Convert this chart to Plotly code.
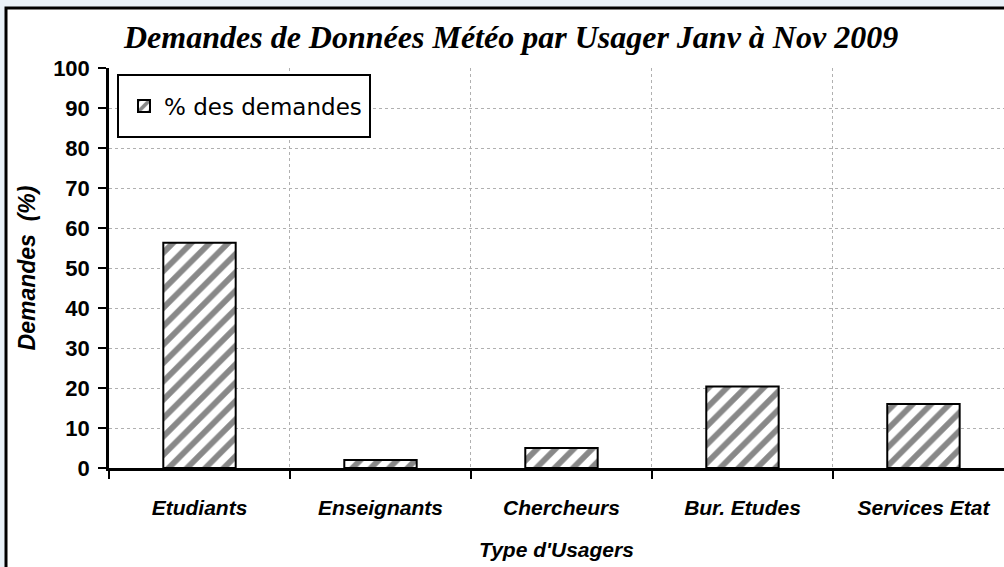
import plotly.graph_objects as go

categories = ["Etudiants", "Enseignants", "Chercheurs", "Bur. Etudes", "Services Etat"]
values = [56.3, 2.0, 5.0, 20.4, 16.0]
series_name = "% des demandes"
y_ticks = [0, 10, 20, 30, 40, 50, 60, 70, 80, 90, 100]

W, H = 1004, 567
L, R, T, B = 109, 0, 68, 99
pw = W - L - R
ph = H - T - B

def px_to_paper_x(px):
    return (px - L) / pw

def px_to_paper_y(py):
    return (H - B - py) / ph

fig = go.Figure()
fig.add_trace(go.Bar(
    x=categories, y=values, name=series_name, width=0.4,
    marker=dict(color="white", line=dict(color="black", width=2),
                pattern=dict(shape="/", fgcolor="#888888", bgcolor="white", size=13,
                             solidity=0.45, fgopacity=1)),
    showlegend=True,
))

arial = "Arial, Liberation Sans"

fig.update_layout(
    width=W, height=H,
    margin=dict(l=L, r=R, t=T, b=B, pad=0),
    paper_bgcolor="#e9f1f8",
    plot_bgcolor="white",
    showlegend=True,
    legend=dict(
        x=px_to_paper_x(124), y=px_to_paper_y(106), xanchor="left", yanchor="middle",
        bgcolor="rgba(0,0,0,0)", borderwidth=0,
        font=dict(family="DejaVu Sans", size=23, color="black"),
        itemwidth=30,
    ),
    xaxis=dict(
        type="category", range=[-0.5, 4.445],
        tickson="boundaries", ticks="outside", ticklen=8, tickwidth=2, tickcolor="black",
        showgrid=True, gridcolor="#b0b0b0", griddash="dot", gridwidth=1,
        showline=True, linecolor="black", linewidth=2.5,
        tickfont=dict(family=arial, size=21, color="black", weight="bold", style="italic"),
        ticklabelstandoff=19,
        title=dict(text="Type d'Usagers", standoff=25,
                   font=dict(family=arial, size=21, color="black", weight="bold", style="italic")),
    ),
    yaxis=dict(
        range=[0, 100], tickvals=y_ticks, ticks="outside", ticklen=8, tickwidth=2, tickcolor="black",
        showgrid=True, gridcolor="#b0b0b0", griddash="dot", gridwidth=1,
        showline=True, linecolor="black", linewidth=2.5, zeroline=False,
        tickfont=dict(family=arial, size=22, color="black", weight="bold"), ticklabelstandoff=4,
        title=dict(text="Demandes  (%)", standoff=12,
                   font=dict(family=arial, size=23, color="black", weight="bold", style="italic")),
    ),
    shapes=[
        dict(type="rect", xref="paper", yref="paper", layer="below",
             x0=px_to_paper_x(6), x1=1.05, y0=-0.4, y1=px_to_paper_y(8),
             fillcolor="white", line=dict(color="black", width=3)),
        dict(type="rect", xref="paper", yref="paper", layer="above",
             x0=px_to_paper_x(118), x1=px_to_paper_x(370),
             y0=px_to_paper_y(137), y1=px_to_paper_y(75),
             fillcolor="white", line=dict(color="black", width=2)),
    ],
    annotations=[dict(
        text="Demandes de Données Météo par Usager Janv à Nov 2009",
        xref="paper", yref="paper", x=px_to_paper_x(510), y=px_to_paper_y(37),
        xanchor="center", yanchor="middle", showarrow=False,
        font=dict(family="Liberation Serif, Times New Roman", size=32, color="black", weight="bold", style="italic"),
    )],
)

fig.write_html("out.html", config={"displayModeBar": False},
               post_script="document.body.style.margin='0';document.body.style.overflow='hidden';")
